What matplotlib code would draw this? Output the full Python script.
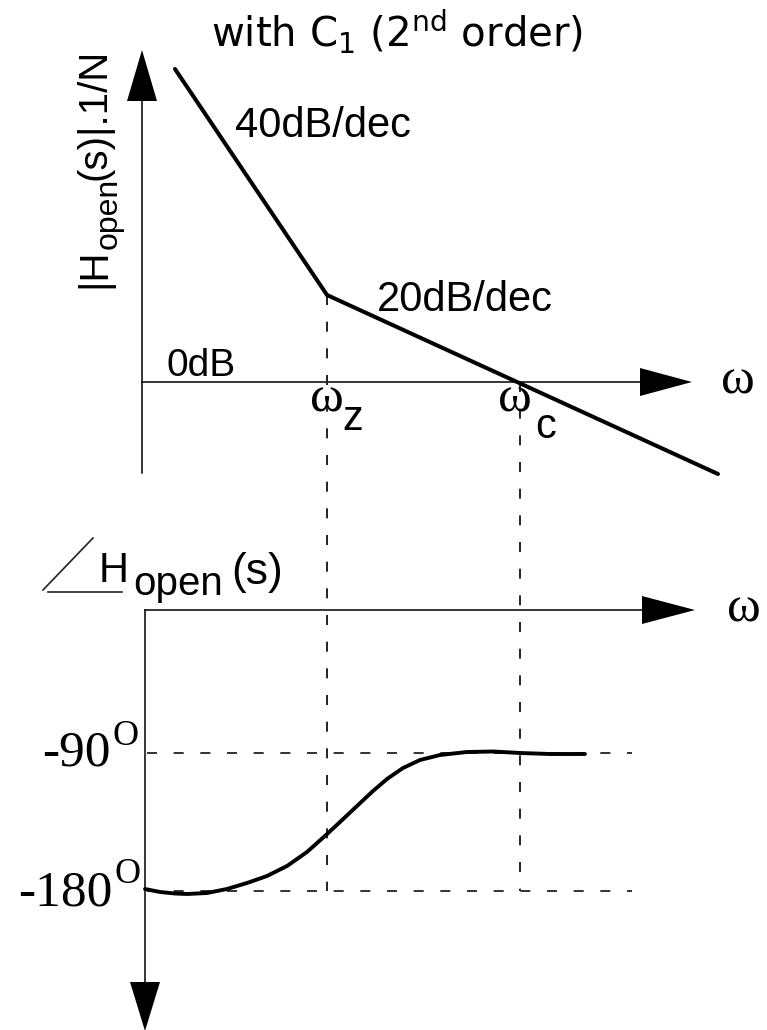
import matplotlib
matplotlib.use("Agg")
import matplotlib.pyplot as plt
from matplotlib.patches import Polygon

plt.rcParams['lines.scale_dashes'] = False
plt.rcParams['mathtext.fontset'] = 'custom'
plt.rcParams['mathtext.rm'] = 'Liberation Sans'

# ---- schematic data (drawing units, y grows downward) ----
mag_x = [175, 327, 718]          # asymptote break points
mag_y = [69, 295, 474]
w_z = 327
w_c = 520
zero_db = 382
phase_axis_y = 610
deg90_y = 753
deg180_y = 891
phase_x = [145, 160, 175, 187, 207, 227, 247, 267, 287, 307, 326, 340, 357,
           373, 387, 403, 420, 440, 467, 493, 520, 550, 585]
phase_y = [889, 892, 893.5, 894, 893, 889, 883, 876, 866, 852, 835, 822, 806,
           791, 779, 768, 760, 755, 752, 751.5, 753, 754, 754]

fig = plt.figure(figsize=(7.67, 10.30), dpi=100)
ax = fig.add_axes([0, 0, 1, 1])
ax.set_xlim(0, 767)
ax.set_ylim(1030, 0)
ax.axis('off')

K = 'black'
thin = 1.1
dash = (0, (7.2, 12.0))

# axes of magnitude plot
ax.plot([142, 142], [473, 100], color=K, lw=thin)
ax.add_patch(Polygon([[142, 50], [127, 101], [157, 101]], closed=True, color=K, lw=0))
ax.plot([142, 641], [zero_db, zero_db], color=K, lw=thin)
ax.add_patch(Polygon([[692, zero_db], [640, zero_db - 14], [640, zero_db + 14]], closed=True, color=K, lw=0))

# axes of phase plot
ax.plot([145, 643], [phase_axis_y, phase_axis_y], color=K, lw=thin)
ax.add_patch(Polygon([[695, phase_axis_y], [642, phase_axis_y - 14], [642, phase_axis_y + 14]], closed=True, color=K, lw=0))
ax.plot([145, 145], [phase_axis_y, 983], color=K, lw=thin)
ax.add_patch(Polygon([[145, 1031], [130, 982], [160, 982]], closed=True, color=K, lw=0))

# dashed guides
ax.plot([w_z, w_z], [mag_y[1], deg180_y], color='#222222', lw=1.4, linestyle=dash)
ax.plot([w_c, w_c], [zero_db, deg180_y], color='#222222', lw=1.4, linestyle=dash)
ax.plot([147, 632], [deg90_y, deg90_y], color='#333333', lw=1.4, linestyle=dash)
ax.plot([147, 632], [deg180_y, deg180_y], color='#333333', lw=1.4, linestyle=dash)

# magnitude asymptote
ax.plot(mag_x, mag_y, color=K, lw=2.9, solid_capstyle='round', solid_joinstyle='miter')

# phase curve
ax.plot(phase_x, phase_y, color=K, lw=2.8, solid_capstyle='round', solid_joinstyle='round')

# ---- texts ----
sans = 'Liberation Sans'
serif = 'Liberation Serif'

ax.text(397, 47, r"with C$_\mathregular{1}$ (2$^\mathregular{nd}$ order)",
        family='DejaVu Sans', fontsize=29, ha='center', va='baseline')

# rotated magnitude label, built from pieces
rot = dict(rotation=90, rotation_mode='anchor', ha='left', va='baseline', family=sans)
ax.text(105, 288, "|H", fontsize=29, **rot)
ax.text(117, 249, "open", fontsize=23, **rot)
ax.text(105, 180, "(s)|.1/N", fontsize=29, **rot)

ax.text(235, 137, "40dB/dec", family=sans, fontsize=30, ha='left', va='baseline')
ax.text(377, 311, "20dB/dec", family=sans, fontsize=30, ha='left', va='baseline')
ax.text(166, 376, "0dB", family=sans, fontsize=28, ha='left', va='baseline')

ax.text(310, 411, "ω", family=serif, fontsize=37, ha='left', va='baseline')
ax.text(342, 430, "z", family=sans, fontsize=30, ha='left', va='baseline')
ax.text(498, 412, "ω", family=serif, fontsize=37, ha='left', va='baseline')
ax.text(535, 438, "c", family=sans, fontsize=30, ha='left', va='baseline')
ax.text(721, 393, "ω", family=serif, fontsize=37, ha='left', va='baseline')
ax.text(727, 621, "ω", family=serif, fontsize=37, ha='left', va='baseline')

# angle sign and label
ax.plot([43, 93], [590, 538], color='#222222', lw=1.2)
ax.plot([48, 122], [592, 592], color='#222222', lw=1.2)
ax.text(99, 582, "H", family=sans, fontsize=30, ha='left', va='baseline')
ax.text(133, 595, "open", family=sans, fontsize=29, ha='left', va='baseline')
ax.text(231, 584, "(s)", family=sans, fontsize=32, ha='left', va='baseline')

# degree labels
ax.text(111, 765, "-90", family=serif, fontsize=37, ha='right', va='baseline')
ax.text(112, 745, "O", family=serif, fontsize=26, ha='left', va='baseline')
ax.text(113, 905, "-180", family=serif, fontsize=37, ha='right', va='baseline')
ax.text(114, 883, "O", family=serif, fontsize=26, ha='left', va='baseline')

fig.savefig("out.png", dpi=100)
